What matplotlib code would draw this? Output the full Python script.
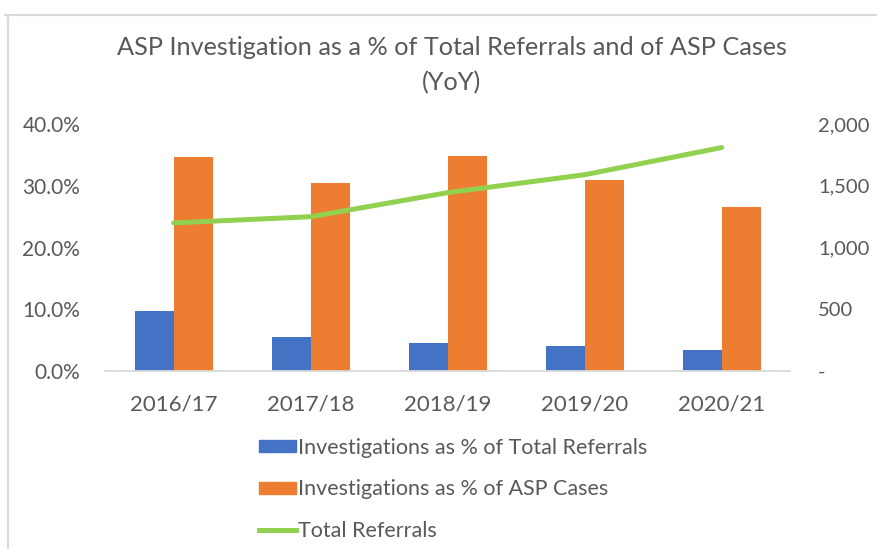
import numpy as np
import matplotlib
matplotlib.use("Agg")
import matplotlib.pyplot as plt
from matplotlib.patches import Rectangle
from matplotlib.lines import Line2D

plt.rcParams['font.family'] = ['Lato', 'DejaVu Sans']

years = ["2016/17", "2017/18", "2018/19", "2019/20", "2020/21"]
pct_referrals = [9.7, 5.5, 4.5, 4.0, 3.5]
pct_asp_cases = [34.6, 30.4, 34.8, 30.9, 26.5]
total_referrals = [1200, 1250, 1445, 1590, 1810]

blue = "#4472C4"
orange = "#ED7D31"
green = "#92D050"
grey = "#595959"
border = "#D9D9D9"

fig = plt.figure(figsize=(8.77, 5.49), dpi=100)
ax = fig.add_axes([0.12, 0.324, 0.781, 0.45])
ax2 = ax.twinx()

x = np.arange(len(years))
w = 0.285
ax.bar(x - w / 2, pct_referrals, w, color=blue)
ax.bar(x + w / 2, pct_asp_cases, w, color=orange)
ax2.plot(x, total_referrals, color=green, lw=3.6, solid_capstyle='round')

ax.set_xlim(-0.5, 4.5)
ax.set_ylim(0, 40)
ax2.set_ylim(0, 2000)
ax.set_xticks(x)
ax.set_xticklabels(years)
ax.set_yticks([0, 10, 20, 30, 40])
ax.set_yticklabels([f"{v:.1f}%" for v in [0, 10, 20, 30, 40]])
ax2.set_yticks([0, 500, 1000, 1500, 2000])
ax2.set_yticklabels(["-", "500", "1,000", "1,500", "2,000"])

for a in (ax, ax2):
    for s in a.spines.values():
        s.set_visible(False)
    a.tick_params(length=0, labelsize=14.5, colors=grey)
ax.tick_params(axis='x', labelsize=16, pad=17)
ax.tick_params(axis='y', labelsize=15, pad=18)
ax2.tick_params(axis='y', pad=20)
ax.spines['bottom'].set_visible(True)
ax.spines['bottom'].set_color(border)
ax.spines['bottom'].set_linewidth(1.3)

fig.text(0.515, 1 - 55 / 549, "ASP Investigation as a % of Total Referrals and of ASP Cases",
         ha='center', va='baseline', fontsize=18.2, color=grey)
fig.text(0.515, 1 - 90 / 549, "(YoY)", ha='center', va='baseline', fontsize=18.2, color=grey)

handles = [Rectangle((0, 0), 1, 1, color=blue), Rectangle((0, 0), 1, 1, color=orange),
           Line2D([], [], color=green, lw=3.6)]
labels = ["Investigations as % of Total Referrals", "Investigations as % of ASP Cases", "Total Referrals"]
fig.legend(handles, labels, loc='upper left', bbox_to_anchor=(0.285, 0.218), frameon=False,
           fontsize=15.5, labelcolor=grey, handlelength=1.75, handleheight=0.45, handletextpad=0.1,
           labelspacing=1.0, borderaxespad=0)

# chart frame: top and left edges only
fig.add_artist(Line2D([5 / 877, 1], [1 - 15 / 549] * 2, transform=fig.transFigure, color=border, lw=1.6))
fig.add_artist(Line2D([8 / 877] * 2, [0, 1 - 15 / 549], transform=fig.transFigure, color=border, lw=1.6))

fig.savefig("out.png", dpi=100)
